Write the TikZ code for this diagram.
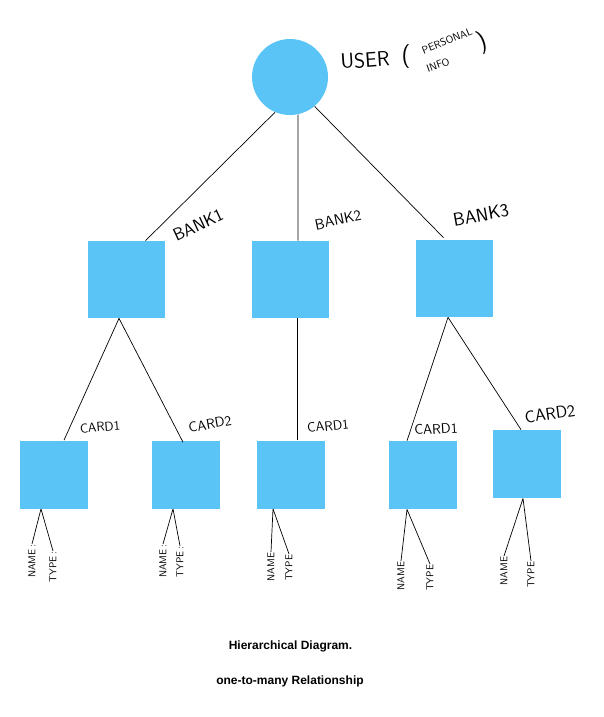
\documentclass[tikz,border=0pt]{standalone}
\usepackage{fontspec}
\newfontfamily\notefont{Liberation Sans}
\usetikzlibrary{calc}
\definecolor{boxblue}{RGB}{91,196,246}

\begin{document}
\begin{tikzpicture}[x=1pt, y=-1pt, line width=0.7pt,
    box/.style={fill=boxblue, draw=none, minimum size=#1, inner sep=0pt},
    hand/.style={font=\sffamily\fontsize{#1}{#1}\selectfont, inner sep=0pt},
    leaf/.style={font=\sffamily\fontsize{10}{10}\selectfont, rotate=90, anchor=east, inner sep=0pt, outer sep=1pt},
    caption/.style={font=\notefont\bfseries\fontsize{12}{12}\selectfont}]
    \useasboundingbox (0,0) rectangle (603,717);
    % user and banks
    \node[circle, fill=boxblue, minimum size=76pt, inner sep=0pt] (user) at (290,77) {};
    \node[box=77pt] (bankA) at (126.5,279.5) {};
    \node[box=77pt] (bankB) at (290.5,279.5) {};
    \node[box=77pt] (bankC) at (454.5,278.5) {};
    % cards
    \node[box=68pt] (cardA) at (54,474.5) {};
    \node[box=68pt] (cardB) at (186,474.5) {};
    \node[box=68pt] (cardC) at (291,474.5) {};
    \node[box=68pt] (cardD) at (423,475) {};
    \node[box=68pt] (cardE) at (527,464) {};
    % links
    \draw (user.247) -- ([xshift=19pt]bankA.north);
    \draw (user.282) -- ([xshift=7.5pt]bankB.north);
    \draw (user.310) -- ([xshift=-11pt, yshift=2pt]bankC.north);
    \draw ([xshift=-7.5pt]bankA.south) -- ([xshift=10pt]cardA.north);
    \draw ([xshift=-7.5pt]bankA.south) -- ([xshift=-3pt, yshift=-2pt]cardB.north);
    \draw ([xshift=7pt]bankB.south) -- ([xshift=6.5pt]cardC.north);
    \draw ([xshift=-6.5pt]bankC.south) -- ([xshift=-16pt]cardD.north);
    \draw ([xshift=-6.5pt]bankC.south) -- ([xshift=-6pt]cardE.north);
    % labels
    \node[hand=21, rotate=4] (userlabel) at (365,60) {USER};
    \node[hand=24] (openbr) at (406,57) {(};
    \node[hand=10.5, rotate=22] (personal) at (447,41) {PERSONAL};
    \node[hand=10.5, rotate=20] (info) at (438,65) {INFO};
    \node[hand=24, rotate=20] (closebr) at (482,42) {)};
    \node[hand=17.5, rotate=25] (bankAlabel) at (198,225) {BANK1};
    \node[hand=15, rotate=12] (bankBlabel) at (338,220) {BANK2};
    \node[hand=18.5, rotate=10] (bankClabel) at (481,215) {BANK3};
    \node[hand=13, rotate=5] (cardAlabel) at (100,427) {CARD1};
    \node[hand=14, rotate=10] (cardBlabel) at (210,424) {CARD2};
    \node[hand=13.5, rotate=6] (cardClabel) at (328,426) {CARD1};
    \node[hand=14, rotate=3] (cardDlabel) at (436,429) {CARD1};
    \node[hand=17, rotate=8] (cardElabel) at (550,414) {CARD2};
    % name / type
    \coordinate (forkA) at ([xshift=-13pt]cardA.south);
    \coordinate (forkB) at ([xshift=-13pt]cardB.south);
    \coordinate (forkC) at ([xshift=-18pt]cardC.south);
    \coordinate (forkD) at ([xshift=-16pt]cardD.south);
    \coordinate (forkE) at ([xshift=-4pt]cardE.south);
    \node[leaf] (nameA) at (32,544) {NAME\,:};
    \node[leaf] (typeA) at (53,551) {TYPE\,:};
    \node[leaf] (nameB) at (163,544) {NAME\,:};
    \node[leaf] (typeB) at (180,546) {TYPE\,:};
    \node[leaf] (nameC) at (271,552) {NAME};
    \node[leaf] (typeC) at (289,554) {TYPE};
    \node[leaf] (nameD) at (401,561) {NAME};
    \node[leaf] (typeD) at (430,564) {TYPE};
    \node[leaf] (nameE) at (504,556) {NAME};
    \node[leaf] (typeE) at (531,561) {TYPE};
    \foreach \c in {A,B,C,D,E}
        \draw (fork\c) -- (name\c.east) (fork\c) -- (type\c.east);
    % caption
    \node[caption] (title) at (290.5,646) {Hierarchical Diagram.};
    \node[caption] (subtitle) at (290,681) {one-to-many Relationship};
\end{tikzpicture}
\end{document}
